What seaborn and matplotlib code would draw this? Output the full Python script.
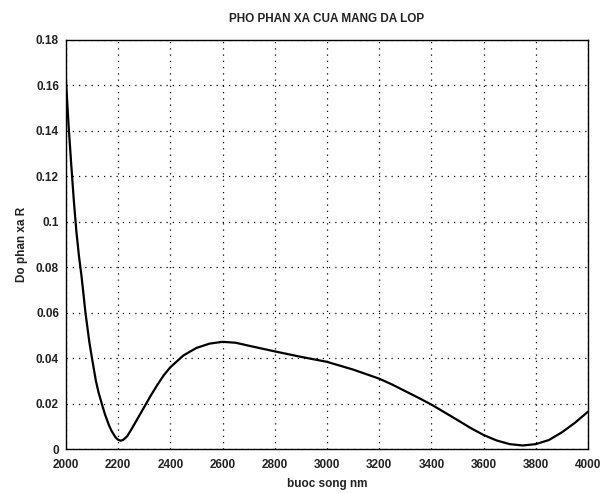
import matplotlib
matplotlib.use("Agg")
import matplotlib.pyplot as plt
import seaborn as sns
import pandas as pd

wavelength = [2000, 2010, 2020, 2030, 2040, 2050, 2060, 2075, 2090, 2100, 2115, 2125,
              2140, 2150, 2165, 2175, 2190, 2200, 2210, 2220, 2235, 2250, 2275, 2300, 2325,
              2350, 2375, 2400, 2450, 2500, 2550, 2600, 2650, 2700, 2800, 2900, 3000,
              3100, 3200, 3250, 3300, 3350, 3400, 3450, 3500, 3550, 3600, 3650, 3700,
              3750, 3800, 3850, 3900, 3950, 4000]
reflect = [0.163, 0.143, 0.126, 0.110, 0.096, 0.085, 0.076, 0.060, 0.047, 0.040, 0.030, 0.025,
           0.019, 0.0152, 0.0105, 0.0080, 0.0052, 0.0041, 0.0037, 0.0041, 0.0057, 0.0085, 0.0135, 0.0185, 0.0235,
           0.0282, 0.0325, 0.0360, 0.0412, 0.0445, 0.0464, 0.0472, 0.0468, 0.0455, 0.0430, 0.0406, 0.0384,
           0.0350, 0.0310, 0.0284, 0.0255, 0.0226, 0.0196, 0.0162, 0.0128, 0.0093, 0.0062, 0.0038, 0.0022,
           0.0016, 0.0022, 0.0040, 0.0074, 0.0116, 0.0165]

xticks = [2000, 2200, 2400, 2600, 2800, 3000, 3200, 3400, 3600, 3800, 4000]
yticks = [0, 0.02, 0.04, 0.06, 0.08, 0.1, 0.12, 0.14, 0.16, 0.18]
ytick_labels = ["0", "0.02", "0.04", "0.06", "0.08", "0.1", "0.12", "0.14", "0.16", "0.18"]

title = "PHO PHAN XA CUA MANG DA LOP"
xlabel = "buoc song nm"
ylabel = "Do phan xa R"

sns.set_theme(style="white")
plt.rcParams['font.family'] = ['Liberation Sans', 'DejaVu Sans']

df = pd.DataFrame({"wl": wavelength, "R": reflect})

fig = plt.figure(figsize=(6.1, 4.93), dpi=100)
ax = fig.add_axes([0.108, 0.089, 0.856, 0.830])
sns.lineplot(data=df, x="wl", y="R", ax=ax, color="black", linewidth=1.6)

ax.set_xlim(2000, 4000)
ax.set_ylim(0, 0.18)
ax.set_xticks(xticks)
ax.set_xticklabels([str(t) for t in xticks])
ax.set_yticks(yticks)
ax.set_yticklabels(ytick_labels)
ax.grid(True, color="black", linestyle=(0, (1, 4)), linewidth=0.9)
for s in ax.spines.values():
    s.set_color("black")
    s.set_linewidth(1.0)
ax.tick_params(direction="in", length=3, color="black", labelsize=8.5)
ax.tick_params(axis="x", pad=7)
ax.tick_params(axis="y", pad=5)
for lab in ax.get_xticklabels() + ax.get_yticklabels():
    lab.set_fontweight("bold")
    lab.set_color("#222222")

ax.set_title(title, fontsize=8.5, fontweight="bold", color="#222222", pad=13)
ax.set_xlabel(xlabel, fontsize=8.5, fontweight="bold", color="#222222", labelpad=5)
ax.set_ylabel(ylabel, fontsize=8.5, fontweight="bold", color="#222222", labelpad=6)

fig.savefig("out.png", dpi=100, facecolor="white")
